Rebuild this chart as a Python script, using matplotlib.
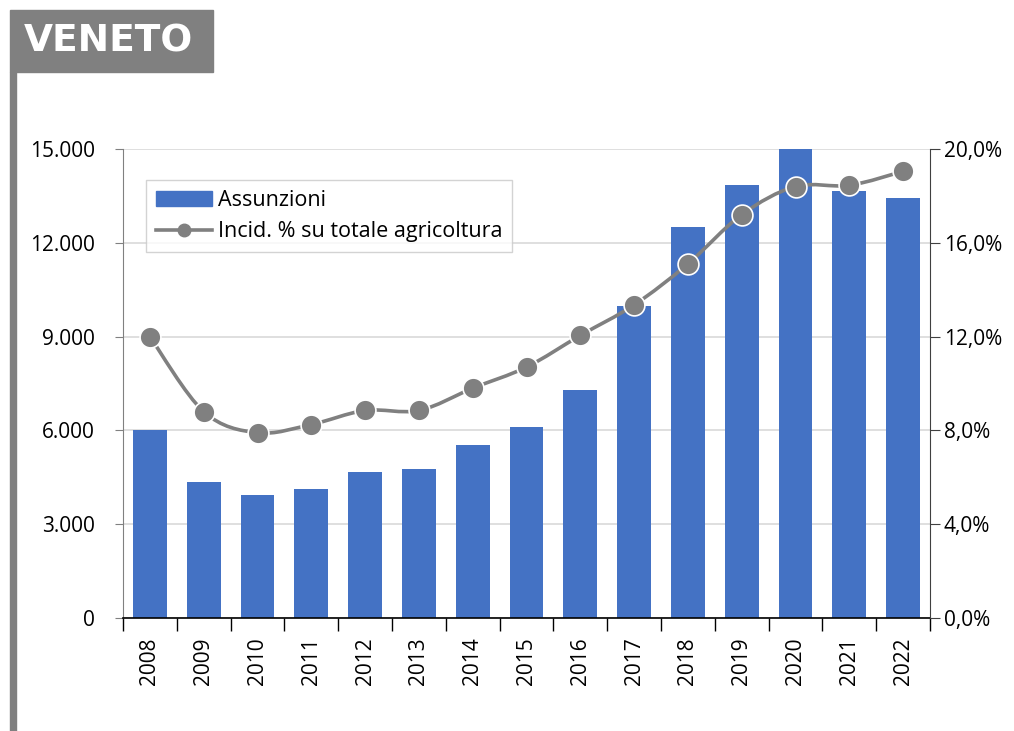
import numpy as np
import matplotlib
matplotlib.use("Agg")
import matplotlib.pyplot as plt
from matplotlib.patches import Rectangle
from matplotlib.lines import Line2D
from matplotlib.path import Path
from matplotlib.patches import PathPatch
from matplotlib.ticker import FuncFormatter

plt.rcParams['font.family'] = ['Open Sans', 'DejaVu Sans']

years = ['2008', '2009', '2010', '2011', '2012', '2013', '2014', '2015',
         '2016', '2017', '2018', '2019', '2020', '2021', '2022']
assunzioni = [6000, 4350, 3930, 4120, 4670, 4760, 5530, 6110,
              7290, 9980, 12500, 13850, 15000, 13650, 13430]
incidenza = [12.0, 8.8, 7.9, 8.25, 8.85, 8.85, 9.8, 10.7,
             12.05, 13.35, 15.1, 17.2, 18.4, 18.45, 19.05]

BLUE = '#4472C4'
GRAY = '#808080'

fig = plt.figure(figsize=(10.14, 7.31), dpi=100)

# header decoration
fig.patches.append(Rectangle((10/1014, 1-72/731), (213-10)/1014, (72-10)/731,
                             transform=fig.transFigure, color=GRAY, zorder=0))
fig.patches.append(Rectangle((10/1014, 0), 6/1014, 1-72/731,
                             transform=fig.transFigure, color=GRAY, zorder=0))
fig.text(24/1014, 1-41/731, 'VENETO', color='white', fontsize=27, fontweight='heavy',
         family=['DejaVu Sans'], va='center', ha='left')

ax = fig.add_axes([123/1014, 1-618/731, (930-123)/1014, (618-149)/731])
x = np.arange(len(years))
ax.bar(x, assunzioni, width=0.63, color=BLUE, zorder=2)
ax.set_xlim(-0.5, len(years)-0.5)
ax.set_ylim(0, 15000)
ax.set_yticks(np.arange(0, 15001, 3000))
ax.yaxis.set_major_formatter(FuncFormatter(lambda v, p: f'{int(v):,}'.replace(',', '.')))
ax.grid(axis='y', color='#d9d9d9', linewidth=1.2, zorder=0)
ax.set_axisbelow(True)
ax.set_xticks(x)
ax.set_xticklabels(years, rotation=90, fontsize=15)
ax.tick_params(axis='x', length=0, pad=14)
ax.set_xticks(np.arange(-0.5, len(years), 1), minor=True)
ax.tick_params(axis='x', which='minor', length=9, color='black', width=1)
ax.tick_params(axis='y', length=6, color=GRAY, labelsize=15, pad=14)
for s in ['top', 'right']:
    ax.spines[s].set_visible(False)
ax.spines['left'].set_color(GRAY)
ax.spines['bottom'].set_color('black')
ax.spines['bottom'].set_linewidth(1.2)

ax2 = ax.twinx()
ax2.set_ylim(0, 20)
ax2.set_yticks(np.arange(0, 20.1, 4))
ax2.yaxis.set_major_formatter(FuncFormatter(lambda v, p: f'{v:.1f}%'.replace('.', ',')))
ax2.tick_params(axis='y', length=7, color='#404040', labelsize=15, pad=3)
for s in ['top', 'left', 'bottom']:
    ax2.spines[s].set_visible(False)
ax2.spines['right'].set_color('#404040')

# smoothed line (Catmull-Rom style bezier) in axes-normalized space
xs = (x + 0.5) / len(years)
ys = np.array(incidenza) / 20.0
pts = np.column_stack([xs, ys])
verts = [pts[0]]
codes = [Path.MOVETO]
n = len(pts)
for i in range(n - 1):
    p0 = pts[i-1] if i > 0 else pts[i]
    p1 = pts[i]
    p2 = pts[i+1]
    p3 = pts[i+2] if i + 2 < n else pts[i+1]
    c1 = p1 + (p2 - p0) / 6.0
    c2 = p2 - (p3 - p1) / 6.0
    verts += [c1, c2, p2]
    codes += [Path.CURVE4] * 3
path = Path(verts, codes)
ax2.add_patch(PathPatch(path, transform=ax2.transAxes, facecolor='none',
                        edgecolor=GRAY, linewidth=2.6, zorder=3))
ax2.plot(x, incidenza, linestyle='none', marker='o', markersize=15,
         markerfacecolor=GRAY, markeredgecolor='white', markeredgewidth=1.2, zorder=4)

handles = [Rectangle((0, 0), 1, 1, color=BLUE),
           Line2D([0], [0], color=GRAY, linewidth=2.6, marker='o', markersize=9,
                  markerfacecolor=GRAY, markeredgecolor=GRAY)]
leg = ax2.legend(handles, ['Assunzioni', 'Incid. % su totale agricoltura'],
                 loc='upper left', bbox_to_anchor=(23/807, 1-31/469), fontsize=15.5,
                 frameon=True, fancybox=False, edgecolor='#c8c8c8',
                 handlelength=2.6, handletextpad=0.3, borderpad=0.45, labelspacing=0.5,
                 borderaxespad=0)
leg.get_frame().set_linewidth(1.0)

fig.savefig('out.png', dpi=100)
